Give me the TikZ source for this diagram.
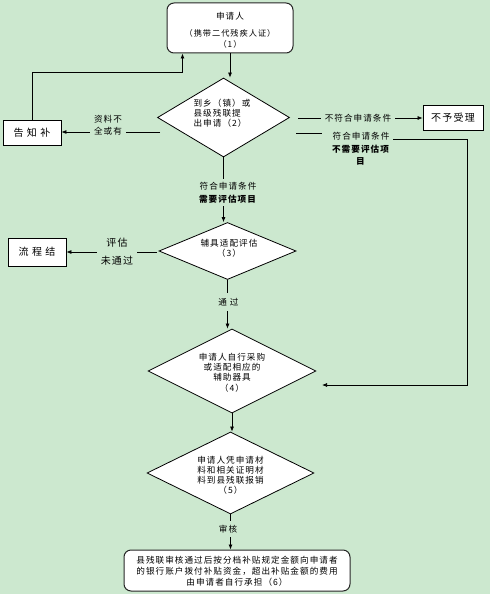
\documentclass[tikz,border=0pt]{standalone}
\usepackage{fontspec}
\setmainfont{Noto Sans CJK SC}[LetterSpace=12]
\usetikzlibrary{shapes.geometric,arrows.meta}
\definecolor{bg}{RGB}{204,232,207}
\begin{document}
\begin{tikzpicture}[x=1pt,y=-1pt,
  font=\fontsize{8.6}{10.4}\selectfont,
  box/.style={draw,fill=white,line width=0.8pt,inner sep=0pt},
  rbox/.style={draw=black!85,fill=white,line width=1pt,rounded corners=7pt,inner sep=0pt},
  dia/.style={draw,diamond,fill=white,line width=0.8pt,inner sep=0pt},
  arr/.style={-{Latex[length=5pt,width=4pt]},line width=0.7pt},
  ln/.style={line width=0.7pt},
  lbl/.style={inner sep=0pt,align=center},
  gap/.style={inner xsep=4pt,inner ysep=2pt,fill=bg,align=center},
  big/.style={font=\fontsize{10}{12}\selectfont}]
\fill[bg] (0,0) rectangle (490,594);
\useasboundingbox (0,0) rectangle (490,594);

% nodes
\node[rbox,minimum width=126pt,minimum height=50pt] (b1) at (230,28) {};
\node[lbl] (t1a) at (230,16) {申请人};
\node[lbl,font=\fontsize{8.2}{11}\selectfont] (t1b) at (230,38.5) {（携带二代残疾人证）\\（1）};

\node[dia,minimum width=132pt,minimum height=79pt] (d1) at (223.5,117.5) {};
\node[lbl,align=left,font=\fontsize{8.6}{9.8}\selectfont] (t2) at (222,113.5) {到乡（镇）或\\县级残联提\\出申请（2）};

\node[box,big,minimum width=58pt,minimum height=25pt] (b2) at (32,133) {告~知~补};
\node[box,big,minimum width=60pt,minimum height=25pt] (b3) at (453,117.5) {不予受理};

\node[dia,minimum width=137pt,minimum height=57pt] (d3) at (227.5,251) {};
\node[lbl,font=\fontsize{8.6}{10}\selectfont] (t3) at (229,248) {辅具适配评估\\（3）};

\node[box,big,minimum width=58pt,minimum height=28pt] (b4) at (37,252) {流~程~结};

\node[dia,minimum width=168pt,minimum height=84pt] (d4) at (232,371) {};
\node[lbl,font=\fontsize{8.6}{10.3}\selectfont] (t4) at (232,372.5) {申请人自行采购\\或适配相应的\\辅助器具\\（4）};

\node[dia,minimum width=167pt,minimum height=82pt] (d5) at (230.5,473) {};
\node[lbl,font=\fontsize{8.6}{10}\selectfont] (t5) at (230.5,475) {申请人凭申请材\\料和相关证明材\\料到县残联报销\\（5）};

\node[rbox,minimum width=226pt,minimum height=41pt] (b6) at (237,570.5) {};
\node[lbl,font=\fontsize{8.6}{11}\selectfont] (t6) at (237,571) {县残联审核通过后按分档补贴规定金额向申请者\\的银行账户拨付补贴资金，超出补贴金额的费用\\由申请者自行承担（6）};

% coordinates
\coordinate (cL1) at (160,132);
\coordinate (cR1) at (298,118);
\coordinate (cR2) at (296,133);
\coordinate (cR2b) at (322,133);
\coordinate (cR3) at (393,139);
\coordinate (cR4) at (467,385);
\coordinate (cR5) at (322,385);
\coordinate (cL2) at (157,252);

% connectors
\draw[arr] (b1.south) -- (b1.south |- d1.north);
\draw[arr] (b2.north) -- (b2.north |- 0,72) -| ([xshift=16pt]b1.south west);
\draw[arr] (cL1) -- (b2.east |- cL1);
\node[gap,font=\fontsize{8.6}{12}\selectfont] (l1) at (108,125.5) {资料不\\全或有};
\draw[arr] (cR1) -- (b3.west |- cR1);
\node[gap] (l2) at (358,118) {不符合申请条件};
\draw[ln] (cR2) -- (cR2b);
\node[lbl,font=\fontsize{8.6}{12.5}\selectfont] (l3) at (361,149) {符合申请条件\\\textbf{不需要评估项}\\\textbf{目}};
\draw[arr] (cR3) -| (cR4) -- (cR5);

\draw[arr] (d1.south) -- (d1.south |- d3.north);
\node[gap,inner ysep=3pt,font=\fontsize{8.6}{13}\selectfont] (l4) at (228,192.5) {符合申请条件\\\textbf{需要评估项目}};

\draw[arr] (cL2) -- (b4.east);
\node[gap,big,font=\fontsize{10}{18}\selectfont] (l5) at (117,252) {评估\\未通过};

\draw[arr] (d3.south) -- (d3.south |- d4.north);
\node[gap,inner ysep=5pt] (l6) at (228.5,302) {通~过};

\draw[arr] (d4.south) -- (d4.south |- d5.north);

\draw[arr] (d5.south) -- (d5.south |- b6.north);
\node[gap,inner ysep=4pt] (l7) at (228,529) {审核};
\end{tikzpicture}
\end{document}
